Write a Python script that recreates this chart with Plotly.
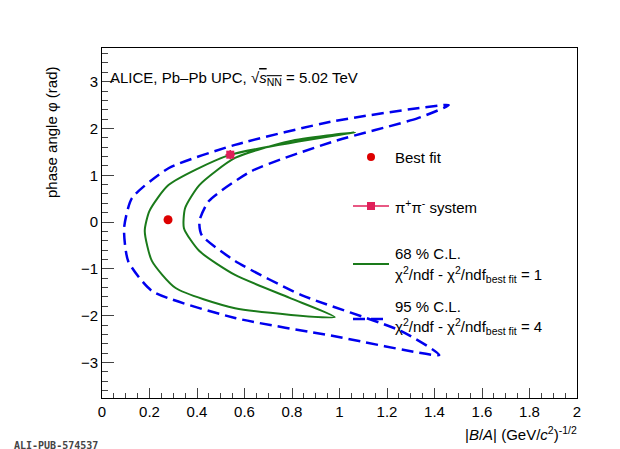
import plotly.graph_objects as go

# 68 % C.L. contour (|B/A|, phi)
cl68_x = [1.065, 0.79, 0.56, 0.41, 0.35, 0.345, 0.41, 0.56, 0.79, 0.98,
          0.56, 0.31, 0.21, 0.18, 0.20, 0.28, 0.535, 1.065]
cl68_y = [1.92, 1.73, 1.37, 0.79, 0.30, -0.13, -0.62, -1.13, -1.62, -2.03,
          -1.84, -1.41, -0.83, -0.19, 0.24, 0.79, 1.43, 1.92]
# 95 % C.L. contour
cl95_x = [1.46, 1.33, 0.98, 0.63, 0.45, 0.41, 0.42, 0.56, 0.84, 1.26, 1.42,
          0.98, 0.56, 0.21, 0.11, 0.093, 0.126, 0.28, 0.56, 0.98, 1.46]
cl95_y = [2.50, 2.22, 1.73, 1.09, 0.45, 0.02, -0.28, -0.83, -1.56, -2.33, -2.84,
          -2.44, -2.05, -1.47, -0.83, -0.13, 0.51, 1.15, 1.65, 2.16, 2.50]
best_x, best_y = [0.278], [0.05]
pipi_x, pipi_y = [0.54], [1.44]
pipi_ex, pipi_ey = [0.02], [0.1]

fig = go.Figure()
fig.add_trace(go.Scatter(x=cl95_x, y=cl95_y, mode="lines",
                         line=dict(color="#0000ee", width=2.5, dash="12px,6px", shape="spline", smoothing=0.6)))
fig.add_trace(go.Scatter(x=cl68_x, y=cl68_y, mode="lines",
                         line=dict(color="#1a7a1a", width=2, shape="spline", smoothing=0.6)))
fig.add_trace(go.Scatter(x=best_x, y=best_y, mode="markers",
                         marker=dict(color="#dd0000", size=9)))
fig.add_trace(go.Scatter(x=pipi_x, y=pipi_y, mode="markers",
                         marker=dict(color="#e0205a", size=8, symbol="square"),
                         error_x=dict(array=pipi_ex, color="#e0205a", thickness=1.5, width=0),
                         error_y=dict(array=pipi_ey, color="#e0205a", thickness=1.5, width=0)))

def px(x): return (x - 94) / 475
def py(y): return (390 - y) / 350

shapes = [
    dict(type="circle", xref="paper", yref="paper", x0=px(359), x1=px(367), y0=py(153), y1=py(145),
         fillcolor="#dd0000", line=dict(width=0)),
    dict(type="line", xref="paper", yref="paper", x0=px(345), x1=px(381), y0=py(198), y1=py(198),
         line=dict(color="#e0205a", width=1.5)),
    dict(type="rect", xref="paper", yref="paper", x0=px(359), x1=px(367), y0=py(202), y1=py(194),
         fillcolor="#e0205a", line=dict(width=0)),
    dict(type="line", xref="paper", yref="paper", x0=px(345), x1=px(381), y0=py(256), y1=py(256),
         line=dict(color="#1a7a1a", width=2)),
    dict(type="line", xref="paper", yref="paper", x0=px(345), x1=px(381), y0=py(311), y1=py(311),
         line=dict(color="#0000ee", width=2.5, dash="12px,6px")),
]
f = dict(family="Liberation Sans, Arial", size=15, color="black")
def ann(x, y, t):
    return dict(xref="paper", yref="paper", x=px(x), y=py(y), text=t, showarrow=False,
                xanchor="left", yanchor="middle", font=f)
annotations = [
    ann(385, 149, "Best fit"),
    ann(385, 198, "π<sup>+</sup>π<sup>-</sup> system"),
    ann(385, 246, "68 % C.L."),
    ann(385, 266, "χ<sup>2</sup>/ndf - χ<sup>2</sup>/ndf<sub>best fit</sub> = 1"),
    ann(385, 298, "95 % C.L."),
    ann(385, 318, "χ<sup>2</sup>/ndf - χ<sup>2</sup>/ndf<sub>best fit</sub> = 4"),
    ann(100, 70, "ALICE, Pb–Pb UPC, √<span style='text-decoration:overline'><i>s</i><sub>NN</sub></span> = 5.02 TeV"),
    dict(xref="paper", yref="paper", x=px(571), y=py(426), text="|<i>B</i>/<i>A</i>| (GeV/<i>c</i><sup>2</sup>)<sup>-1/2</sup>",
         showarrow=False, xanchor="right", yanchor="middle", font=f),
    dict(xref="paper", yref="paper", x=px(43), y=py(125), text="phase angle φ (rad)", textangle=-90,
         showarrow=False, xanchor="center", yanchor="middle", font=f),
    dict(xref="paper", yref="paper", x=px(4), y=py(437), text="<b>ALI-PUB-574537</b>",
         showarrow=False, xanchor="left", yanchor="middle",
         font=dict(family="DejaVu Sans Mono", size=10, color="#444")),
]

fig.update_layout(
    width=620, height=449, showlegend=False,
    margin=dict(l=94, r=51, t=40, b=59),
    plot_bgcolor="white", paper_bgcolor="white",
    font=dict(family="Liberation Sans, Arial", size=15, color="black"),
    shapes=shapes, annotations=annotations,
    xaxis=dict(range=[0, 2], dtick=0.2, ticks="inside", ticklen=10, showgrid=False,
               zeroline=False, showline=True, linecolor="black", mirror=True, automargin=False,
               minor=dict(dtick=0.05, ticks="inside", ticklen=5)),
    yaxis=dict(range=[-3.76, 3.72], dtick=1, ticks="inside", ticklen=12, showgrid=False,
               zeroline=False, showline=True, linecolor="black", mirror=True, automargin=False,
               minor=dict(dtick=0.2, ticks="inside", ticklen=6)),
)
fig.write_html("out.html")
